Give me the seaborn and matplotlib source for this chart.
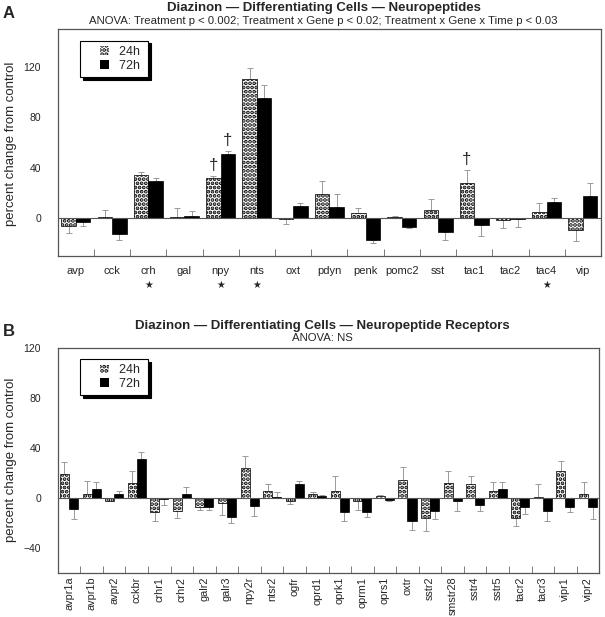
import pandas as pd
import matplotlib
matplotlib.use("Agg")
import matplotlib.pyplot as plt
import seaborn as sns
from matplotlib.patches import Patch, Rectangle
from matplotlib.legend_handler import HandlerPatch
from matplotlib.ticker import FixedLocator, NullFormatter

# panel A - neuropeptides
genes_a = ["avp", "cck", "crh", "gal", "npy", "nts", "oxt", "pdyn", "penk",
           "pomc2", "sst", "tac1", "tac2", "tac4", "vip"]
a_24h = [-5.8, 1.0, 34.0, 1.0, 32.0, 110.5, -0.8, 19.2, 4.2, 1.3, 6.3, 28.2, -1.6, 5.0, -9.7]
a_24h_err = [6.0, 5.5, 3.0, 7.0, 1.5, 9.0, 4.0, 10.0, 3.7, 0.8, 8.7, 10.0, 6.3, 7.0, 8.0]
a_72h = [-3.0, -12.6, 29.7, 2.0, 50.8, 95.5, 10.0, 9.2, -17.6, -6.8, -10.8, -5.0, -1.0, 13.2, 17.9]
a_72h_err = [3.0, 5.0, 2.0, 4.0, 2.4, 10.0, 2.0, 10.0, 2.0, 1.0, 6.6, 9.0, 6.3, 2.6, 10.0]
stars_a = ["crh", "npy", "nts", "tac4"]
daggers_a = [("npy", "24h"), ("npy", "72h"), ("tac1", "24h")]

# panel B - neuropeptide receptors
genes_b = ["avpr1a", "avpr1b", "avpr2", "cckbr", "crhr1", "crhr2", "galr2", "galr3",
           "npy2r", "ntsr2", "ogfr", "oprd1", "oprk1", "oprm1", "oprs1", "oxtr",
           "sstr2", "smstr28", "sstr4", "sstr5", "tacr2", "tacr3", "vipr1", "vipr2"]
b_24h = [18.7, 2.7, -2.4, 12.0, -11.2, -10.4, -7.2, -4.0, 24.0, 5.0, -2.9, 2.9,
         5.6, -3.0, 1.3, 13.9, -16.3, 12.0, 11.0, 5.6, -16.3, 0.5, 21.0, 2.7]
b_24h_err = [10.0, 11.0, 0.5, 9.6, 7.2, 5.6, 3.0, 9.6, 9.6, 6.0, 2.4, 2.0,
             11.5, 6.6, 0.5, 10.4, 10.0, 9.6, 6.0, 7.2, 6.0, 10.4, 8.5, 10.0]
b_72h = [-9.3, 6.7, 2.7, 30.7, -1.0, 2.7, -7.2, -15.5, -6.4, 0.8, 10.7, 1.0,
         -11.2, -11.2, -2.0, -19.0, -11.0, -3.0, -6.1, 6.9, -7.2, -10.4, -7.2, -7.2]
b_72h_err = [8.0, 6.0, 3.0, 6.0, 4.5, 6.0, 2.4, 4.5, 8.0, 4.0, 3.0, 1.0,
             7.7, 4.0, 0.3, 7.2, 6.4, 8.0, 4.3, 5.9, 5.9, 8.0, 4.5, 10.0]

DOTS = "...."
FONT = "Liberation Sans"

sns.set_style("white")
plt.rcParams["font.family"] = [FONT, "DejaVu Sans"]
plt.rcParams["hatch.linewidth"] = 1.9


def make_df(genes, v24, e24, v72, e72):
    d1 = pd.DataFrame({"gene": genes, "time": "24h", "value": v24, "err": e24})
    d2 = pd.DataFrame({"gene": genes, "time": "72h", "value": v72, "err": e72})
    return pd.concat([d1, d2], ignore_index=True)


def small_square(legend, orig_handle, xdescent, ydescent, width, height, fontsize):
    s = 0.7 * fontsize
    return Rectangle((-xdescent + width - s, -ydescent + (height - s) / 2), s, s)


def draw_panel(ax, df, genes, ylim, yticks, rotate):
    sns.barplot(data=df, x="gene", y="value", hue="time", order=genes,
                hue_order=["24h", "72h"], palette={"24h": "white", "72h": "black"},
                errorbar=None, edgecolor="black", linewidth=0.5, legend=False,
                saturation=1, ax=ax, zorder=2)
    centers = {}
    for cont, t in zip(ax.containers, ["24h", "72h"]):
        sub = df[df.time == t].set_index("gene").loc[genes]
        xs = []
        for bar, g in zip(cont, genes):
            if t == "24h":
                bar.set_hatch(DOTS)
            x = bar.get_x() + bar.get_width() / 2
            xs.append(x)
            centers[(g, t)] = x
        vals = sub.value.values
        errs = sub.err.values
        lower = [e if v < 0 else 0 for v, e in zip(vals, errs)]
        upper = [e if v >= 0 else 0 for v, e in zip(vals, errs)]
        ax.errorbar(xs, vals, yerr=[lower, upper], fmt="none", ecolor="#9a9a9a",
                    elinewidth=0.7, capsize=2, capthick=0.7, zorder=1)
    ax.axhline(0, color="#555555", lw=0.8, zorder=3)
    ax.set_ylim(*ylim)
    ax.set_xlim(-0.5, len(genes) - 0.5)
    ax.set_yticks(yticks)
    ax.set_xlabel("")
    ax.set_ylabel("")
    ax.tick_params(axis="y", length=0, pad=12, labelsize=7.5)
    ax.tick_params(axis="x", which="major", length=0,
                   labelsize=7.8 if rotate else 8,
                   pad=3 if rotate else 7, rotation=90 if rotate else 0)
    ax.xaxis.set_minor_locator(FixedLocator([i + 0.5 for i in range(len(genes) - 1)]))
    ax.xaxis.set_minor_formatter(NullFormatter())
    ax.tick_params(axis="x", which="minor", direction="in", length=5,
                   width=0.6, color="#666666", bottom=True)
    for s in ax.spines.values():
        s.set_visible(True)
        s.set_color("#555555")
        s.set_linewidth(0.9)
    handles = [Patch(facecolor="white", edgecolor="black", linewidth=0, hatch=DOTS, label="24h "),
               Patch(facecolor="black", edgecolor="black", linewidth=0, label="72h ")]
    leg = ax.legend(handles=handles, loc="upper left", bbox_to_anchor=(0.041, 0.95),
                    fontsize=9, frameon=True, fancybox=False, edgecolor="black",
                    shadow={"color": "black", "alpha": 1},
                    handler_map={Patch: HandlerPatch(patch_func=small_square)},
                    handlelength=1.9, handleheight=0.9, handletextpad=0.8,
                    borderpad=0.4, labelspacing=0.1, borderaxespad=0)
    leg.get_frame().set_linewidth(0.8)
    return centers


fig = plt.figure(figsize=(6.05, 6.17), dpi=100)
ax_a = fig.add_axes([0.0954, 0.5851, 0.898, 0.3674])
ax_b = fig.add_axes([0.0954, 0.0718, 0.8952, 0.3647])

df_a = make_df(genes_a, a_24h, a_24h_err, a_72h, a_72h_err)
df_b = make_df(genes_b, b_24h, b_24h_err, b_72h, b_72h_err)

cent_a = draw_panel(ax_a, df_a, genes_a, (-30, 150), [0, 40, 80, 120], False)
draw_panel(ax_b, df_b, genes_b, (-60, 120), [-40, 0, 40, 80, 120], True)

# significance markers
for g in stars_a:
    ax_a.text(genes_a.index(g), -0.128, "\u2605", transform=ax_a.get_xaxis_transform(),
              ha="center", va="center", fontsize=7, family="DejaVu Sans")
for g, t in daggers_a:
    row = df_a[(df_a.gene == g) & (df_a.time == t)].iloc[0]
    ax_a.annotate("\u2020", xy=(cent_a[(g, t)], row.value + row.err), xytext=(0, 2),
                  textcoords="offset points", ha="center", va="bottom", fontsize=12)

# titles and labels
fig.text(0.535, 1 - 7.5 / 617, "Diazinon \u2014 Differentiating Cells \u2014 Neuropeptides",
         ha="center", va="center", fontsize=9.5, weight="bold")
fig.text(0.535, 1 - 20.5 / 617,
         "ANOVA: Treatment p < 0.002; Treatment x Gene p < 0.02; Treatment x Gene x Time p < 0.03",
         ha="center", va="center", fontsize=8.2)
fig.text(0.533, 1 - 325.7 / 617, "Diazinon \u2014 Differentiating Cells \u2014 Neuropeptide Receptors",
         ha="center", va="center", fontsize=9.5, weight="bold")
fig.text(0.533, 1 - 338 / 617, "ANOVA: NS", ha="center", va="center", fontsize=8.2)
fig.text(9 / 605, 1 - 13 / 617, "A", ha="center", va="center", fontsize=12, weight="bold")
fig.text(9 / 605, 1 - 331 / 617, "B", ha="center", va="center", fontsize=12, weight="bold")
fig.text(11 / 605, 1 - 144 / 617, "percent change from control", rotation=90,
         ha="center", va="center", fontsize=9.5)
fig.text(11 / 605, 1 - 460 / 617, "percent change from control", rotation=90,
         ha="center", va="center", fontsize=9.5)

fig.savefig("out.png", dpi=100)
